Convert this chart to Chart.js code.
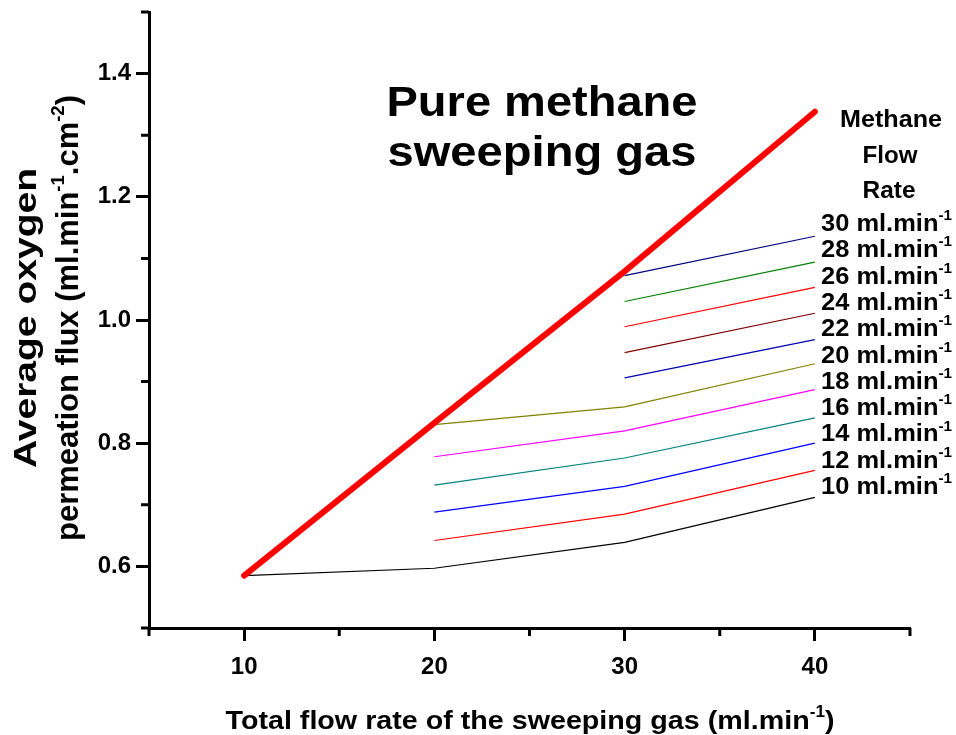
<!DOCTYPE html>
<html>
<head>
<meta charset="utf-8">
<script src="https://cdn.jsdelivr.net/npm/chart.js@4/dist/chart.umd.min.js"></script>
<style>
  body { margin: 0; background: #fff; }
  #wrap { width: 956px; height: 735px; }
</style>
</head>
<body>
<div id="wrap"><canvas id="fluxChart" width="956" height="735"></canvas></div>
<script>
// total sweeping gas flow (ml/min)
const flowX = [10, 20, 30, 40];
const xTicks = [10, 20, 30, 40];
const xMinor = [5, 15, 25, 35, 45];
const yTicks = [0.6, 0.8, 1.0, 1.2, 1.4];
const yMinor = [0.5, 0.7, 0.9, 1.1, 1.3, 1.5];

// pure methane as sweeping gas
const pureMethane = [0.585, 0.833, 1.079, 1.338];

// methane flow rate (ml/min) for each thin line
const methaneRates = [10, 12, 14, 16, 18, 20, 22, 24, 26, 28, 30];
const flux10 = [0.585, 0.597, 0.639, 0.712];
const flux12 = [null, 0.642, 0.685, 0.756];
const flux14 = [null, 0.688, 0.730, 0.800];
const flux16 = [null, 0.732, 0.776, 0.841];
const flux18 = [null, 0.778, 0.820, 0.887];
const flux20 = [null, 0.830, 0.859, 0.929];
const flux22 = [null, null, 0.906, 0.968];
const flux24 = [null, null, 0.947, 1.011];
const flux26 = [null, null, 0.989, 1.053];
const flux28 = [null, null, 1.030, 1.094];
const flux30 = [null, null, 1.072, 1.136];
const rateSeries = [flux10, flux12, flux14, flux16, flux18, flux20, flux22, flux24, flux26, flux28, flux30];
const rateColors = ['#000000', '#ff0000', '#0000ff', '#008080', '#ff00ff', '#808000',
                    '#0000b0', '#800000', '#ff0000', '#008000', '#000080'];

const toPoints = arr => flowX.map((x, i) => ({ x: x, y: arr[i] })).filter(p => p.y !== null);

const font = s => 'bold ' + s + 'px "Liberation Sans", Arial, sans-serif';

function richWidth(ctx, parts, size) {
    let w = 0;
    parts.forEach(p => {
        ctx.font = font(p[1] ? size * 0.6 : size);
        w += ctx.measureText(p[0]).width;
    });
    return w;
}

// draws text with optional superscripts, stretched to a target width
function drawRich(ctx, parts, x, y, size, targetW, align, rot) {
    ctx.save();
    ctx.translate(x, y);
    if (rot) ctx.rotate(rot);
    const w = richWidth(ctx, parts, size);
    ctx.scale(targetW ? targetW / w : 1, 1);
    let cur = align === 'center' ? -w / 2 : 0;
    ctx.fillStyle = '#000';
    ctx.textAlign = 'left';
    ctx.textBaseline = 'alphabetic';
    parts.forEach(p => {
        const s = p[1] ? size * 0.6 : size;
        ctx.font = font(s);
        ctx.fillText(p[0], cur, p[1] ? -size * 0.45 : 0);
        cur += ctx.measureText(p[0]).width;
    });
    ctx.restore();
}

const annotations = {
    id: 'annotations',
    afterDraw(chart) {
        const ctx = chart.ctx;
        const xs = chart.scales.x, ys = chart.scales.y;
        const area = chart.chartArea;

        // minor ticks
        ctx.save();
        ctx.strokeStyle = '#000';
        ctx.lineWidth = 3;
        ctx.beginPath();
        xMinor.forEach(v => {
            const px = xs.getPixelForValue(v);
            ctx.moveTo(px, area.bottom);
            ctx.lineTo(px, area.bottom + 8);
        });
        yMinor.forEach(v => {
            const py = ys.getPixelForValue(v);
            ctx.moveTo(area.left, py);
            ctx.lineTo(area.left - 8, py);
        });
        ctx.stroke();
        ctx.restore();

        // title inside plot
        drawRich(ctx, [['Pure methane', false]], 542, 116, 42, 311, 'center');
        drawRich(ctx, [['sweeping gas', false]], 542, 166, 42, 309, 'center');

        // methane flow rate labels
        drawRich(ctx, [['Methane', false]], 891, 127, 24, 102, 'center');
        drawRich(ctx, [['Flow', false]], 890, 163, 24, 55, 'center');
        drawRich(ctx, [['Rate', false]], 889, 198, 24, 53, 'center');
        methaneRates.slice().reverse().forEach((r, i) => {
            drawRich(ctx, [[r + ' ml.min', false], ['-1', true]], 821, 231 + i * 26.3, 24, 131, 'left');
        });

        // axis titles
        drawRich(ctx, [['Total flow rate of the sweeping gas (ml.min', false], ['-1', true], [')', false]],
                 530, 729, 26, 609, 'center');
        drawRich(ctx, [['Average oxygen', false]], 36, 318, 31, 300, 'center', -Math.PI / 2);
        drawRich(ctx, [['permeation flux (ml.min', false], ['-1', true], ['.cm', false], ['-2', true], [')', false]],
                 78, 318, 31, 446, 'center', -Math.PI / 2);
    }
};

const datasets = [{
    label: 'Pure methane',
    data: toPoints(pureMethane),
    borderColor: '#ff0000',
    borderWidth: 6,
    borderCapStyle: 'round',
    pointRadius: 0,
    order: 0
}];
rateSeries.forEach((s, i) => {
    datasets.push({
        label: methaneRates[i] + ' ml/min',
        data: toPoints(s),
        borderColor: rateColors[i],
        borderWidth: 1.2,
        pointRadius: 0,
        order: 1
    });
});

const tickFont = { family: '"Liberation Sans", Arial, sans-serif', size: 24, weight: 'bold' };

new Chart(document.getElementById('fluxChart'), {
    type: 'line',
    data: { datasets: datasets },
    options: {
        responsive: false,
        animation: false,
        layout: { padding: { top: 12, right: 46, left: 0, bottom: 0 } },
        plugins: { legend: { display: false }, tooltip: { enabled: false } },
        scales: {
            x: {
                type: 'linear',
                min: 5,
                max: 45,
                afterBuildTicks: s => { s.ticks = xTicks.map(v => ({ value: v })); },
                afterFit: s => { s.height = 107; s.paddingLeft = 0; s.paddingRight = 0; },
                ticks: { font: tickFont, color: '#000', padding: 12, maxRotation: 0 },
                grid: { drawOnChartArea: false, tickLength: 13, tickWidth: 3, tickColor: '#000' },
                border: { color: '#000', width: 3 }
            },
            y: {
                min: 0.5,
                max: 1.5,
                afterBuildTicks: s => { s.ticks = yTicks.map(v => ({ value: v })); },
                afterFit: s => { s.width = 149; s.paddingTop = 0; s.paddingBottom = 0; },
                ticks: { font: tickFont, color: '#000', padding: 5, callback: v => v.toFixed(1) },
                grid: { drawOnChartArea: false, tickLength: 13, tickWidth: 3, tickColor: '#000' },
                border: { color: '#000', width: 3 }
            }
        }
    },
    plugins: [annotations]
});
</script>
</body>
</html>
